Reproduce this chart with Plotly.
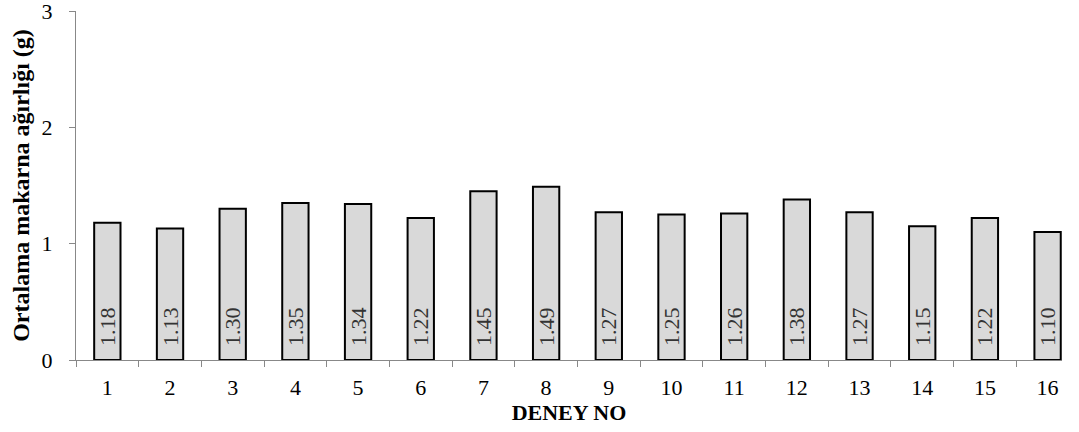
import plotly.graph_objects as go

categories = [str(i) for i in range(1, 17)]
values = [1.18, 1.13, 1.30, 1.35, 1.34, 1.22, 1.45, 1.49, 1.27, 1.25, 1.26, 1.38, 1.27, 1.15, 1.22, 1.10]
labels = ["\u00a0\u00a0" + f"{v:.2f}" for v in values]

serif = "Liberation Serif, Times New Roman, serif"

fig = go.Figure(go.Bar(
    x=categories, y=values, text=labels,
    textposition="inside", insidetextanchor="start", textangle=-90,
    textfont=dict(family=serif, size=22, color="#333333"),
    marker=dict(color="#d9d9d9", line=dict(color="#000000", width=2)),
    width=0.42,
))

fig.update_layout(
    width=1079, height=432,
    margin=dict(l=76, r=17, t=11, b=72),
    plot_bgcolor="white", paper_bgcolor="white",
    showlegend=False,
    font=dict(family=serif, color="#000000"),
    uniformtext=dict(minsize=22, mode="show"),
)
fig.update_xaxes(
    type="category", range=[-0.5, 15.23],
    showline=True, linecolor="#888888", linewidth=1,
    ticks="outside", tickson="boundaries", ticklen=6, tickcolor="#888888",
    tickfont=dict(family=serif, size=22), ticklabelstandoff=8,
    ticklabeloverflow="allow",
    title=dict(text="<b>DENEY NO</b>", font=dict(family=serif, size=22), standoff=0),
    showgrid=False, automargin=False,
)
fig.update_yaxes(
    range=[0, 3], tickvals=[0, 1, 2, 3], showline=True, linecolor="#888888", linewidth=1,
    ticks="outside", ticklen=6, tickcolor="#888888",
    tickfont=dict(family=serif, size=22), ticklabelstandoff=12,
    ticklabeloverflow="allow",
    title=dict(text="<b>Ortalama makarna ağırlığı (g)</b>", font=dict(family=serif, size=24), standoff=5),
    showgrid=False, zeroline=False, automargin=False,
)

fig.write_html("out.html")
